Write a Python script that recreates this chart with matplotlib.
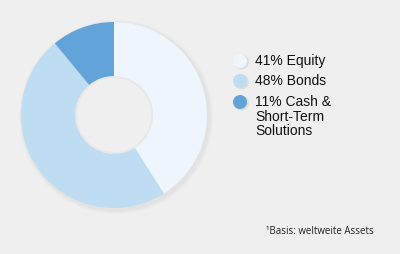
import matplotlib.pyplot as plt
from matplotlib.patches import Circle

labels = ["41% Equity", "48% Bonds", "11% Cash &\nShort-Term\nSolutions"]
shares = [41, 48, 11]
colors = ["#EEF5FC", "#BEDCF2", "#62A4DA"]
footnote = "¹Basis: weltweite Assets"

bg = "#EFEFEF"
fig = plt.figure(figsize=(4, 2.54), dpi=100, facecolor=bg)
ax = fig.add_axes([0, 0, 1, 1])

# faint shadow around the outer edge of the ring
for k, a in enumerate([0.05, 0.035, 0.02]):
    ax.pie([1], radius=93 + 1.5 * (k + 1), center=(116, 137), colors=["#7A7A7A"],
           wedgeprops=dict(width=10, alpha=a, linewidth=0), frame=True)

ax.pie(shares, radius=93, center=(114, 139), colors=colors, startangle=90,
       counterclock=False, wedgeprops=dict(width=54, linewidth=0), frame=True)
# slight shading inside the hole
ax.pie([1], radius=39, center=(114, 139), colors=["#7A7A7A"],
       wedgeprops=dict(width=2, alpha=0.06, linewidth=0), frame=True)
ax.set_xlim(0, 400)
ax.set_ylim(0, 254)
ax.set_aspect("equal")
ax.set_facecolor(bg)
ax.axis("off")

ys = [200, 180, 159]
for y, c, lab in zip(ys, colors, labels):
    ax.add_patch(Circle((241.5, y - 8), 7.5, color="#9A9A9A", alpha=0.2, lw=0))
    ax.add_patch(Circle((240, y - 7), 7, color=c, lw=0))
    ax.text(255, y, lab, fontsize=10, family="Liberation Sans", color="#111111",
            va="top", ha="left", linespacing=1.05)

ax.text(266, 22, footnote, fontsize=7, family="Open Sans", color="#222222",
        ha="left", va="center")

fig.savefig("out.png", dpi=100, facecolor=bg)
